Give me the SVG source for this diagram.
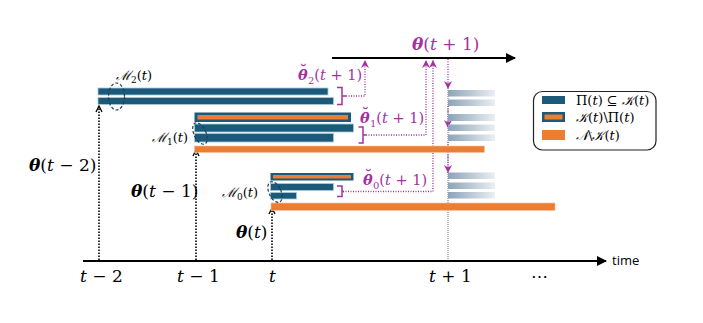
<svg xmlns="http://www.w3.org/2000/svg" width="703" height="323" viewBox="0 0 703 323">
<defs>
<linearGradient id="fade" x1="0" y1="0" x2="1" y2="0">
<stop offset="0" stop-color="#8ca3b8"/>
<stop offset="1" stop-color="#eaeff3"/>
</linearGradient>
<marker id="ah" markerWidth="10" markerHeight="10" refX="9" refY="5" orient="auto" markerUnits="userSpaceOnUse">
<path d="M0,0 L10,5 L0,10 z" fill="#000"/>
</marker>
<marker id="ahs" markerWidth="8" markerHeight="8" refX="7" refY="4" orient="auto" markerUnits="userSpaceOnUse">
<path d="M1,1 L7,4 L1,7" fill="none" stroke="#000" stroke-width="1.3"/>
</marker>
<marker id="ahm" markerWidth="9" markerHeight="9" refX="8" refY="4.5" orient="auto" markerUnits="userSpaceOnUse">
<path d="M0,0.5 L8,4.5 L0,8.5 L2.5,4.5 z" fill="#a3329f"/>
</marker>
</defs>
<style>
.math{font-family:"DejaVu Serif","Liberation Serif",serif;font-size:17px;fill:#000}
.sm{font-size:13px}
.md{font-size:14.5px}
.it{font-style:italic}
.bi{font-style:italic;font-weight:bold}
.mg{fill:#a3329f}
.brv{font-weight:bold}
.teal{fill:#1d5a7a;stroke:#a9cadb;stroke-width:0.8}
.orange{fill:#ed7d31;stroke:#f6c7a5;stroke-width:0.6}
.ot-out{fill:#1d5a7a}
.ot-in{fill:#ed7d31}
.fade{fill:url(#fade)}
.ell{fill:none;stroke:#1d3f55;stroke-width:1.2;stroke-dasharray:3 2}
.kdot{fill:none;stroke:#000;stroke-width:1.6;stroke-dasharray:1.5 1.5}
.mdot{fill:none;stroke:#a3329f;stroke-width:1.3;stroke-dasharray:1 1.5}
.brk{fill:none;stroke:#a3329f;stroke-width:1.5}
.sans{font-family:"Open Sans","Liberation Sans",sans-serif;font-size:13px;fill:#000}
</style>

<g id="connectors">
<line x1="83" y1="261" x2="606" y2="261" stroke="#000" stroke-width="2.2" marker-end="url(#ah)"/>
<line x1="332" y1="58" x2="515" y2="58" stroke="#000" stroke-width="2" marker-end="url(#ah)"/>
<line class="kdot" x1="99" y1="260" x2="99" y2="106" marker-end="url(#ahs)"/>
<line class="kdot" x1="196" y1="260" x2="196" y2="150" marker-end="url(#ahs)"/>
<line class="kdot" x1="272" y1="260" x2="272" y2="208" marker-end="url(#ahs)"/>
<line x1="448" y1="88" x2="448" y2="260" stroke="#444" stroke-width="0.8" stroke-dasharray="1 1"/>
<path class="mdot" d="M346,96 H365 V60" marker-end="url(#ahm)"/>
<path class="mdot" d="M366,135 H426 V60" marker-end="url(#ahm)"/>
<path class="mdot" d="M343,191.5 H433 V60" marker-end="url(#ahm)"/>
<line class="mdot" x1="448" y1="59" x2="448" y2="89" marker-end="url(#ahm)"/>
<line class="mdot" x1="448" y1="106" x2="448" y2="128" marker-end="url(#ahm)"/>
<line class="mdot" x1="448" y1="142" x2="448" y2="173" marker-end="url(#ahm)"/>
</g>

<g id="tier2">
<rect class="teal" x="98" y="88" width="230" height="7"/>
<rect class="teal" x="98" y="97.5" width="235.5" height="7"/>
<path class="brk" d="M337,87.5 H342 V104.5 H337 M342,96 H346"/>
<ellipse class="ell" cx="116.5" cy="96.5" rx="8" ry="13.5"/>
<text class="math sm" x="116" y="80"><tspan class="it">ℳ</tspan><tspan font-size="9" dy="3">2</tspan><tspan dy="-3">(</tspan><tspan class="it">t</tspan>)</text>
</g>

<g id="tier1">
<rect class="ot-out" x="194.5" y="112.5" width="156.5" height="9.5"/>
<rect class="ot-in" x="197.5" y="115" width="150.5" height="4.5"/>
<rect class="teal" x="194.5" y="124" width="159" height="8"/>
<rect class="teal" x="194.5" y="133.5" width="139" height="8.5"/>
<rect class="orange" x="194.5" y="146" width="290" height="6.5"/>
<path class="brk" d="M358.5,127 H363 V143 H358.5 M363,135 H366"/>
<ellipse class="ell" cx="200" cy="133.5" rx="6" ry="11.5" transform="rotate(-25 200 133.5)"/>
<text class="math sm" x="152" y="142"><tspan class="it">ℳ</tspan><tspan font-size="9" dy="3">1</tspan><tspan dy="-3">(</tspan><tspan class="it">t</tspan>)</text>
</g>

<g id="tier0">
<rect class="ot-out" x="270.5" y="173" width="83" height="7.5"/>
<rect class="ot-in" x="273" y="175" width="78" height="3.5"/>
<rect class="teal" x="270.5" y="183.5" width="63" height="7"/>
<rect class="teal" x="270.5" y="192.5" width="26" height="6.5"/>
<rect class="orange" x="271" y="203" width="284" height="7.5"/>
<path class="brk" d="M337,186 H342 V196.5 H337 M342,191.5 H344"/>
<ellipse class="ell" cx="275" cy="192" rx="6" ry="11" transform="rotate(-25 275 192)"/>
<text class="math sm" x="222" y="197"><tspan class="it">ℳ</tspan><tspan font-size="9" dy="3">0</tspan><tspan dy="-3">(</tspan><tspan class="it">t</tspan>)</text>
</g>

<g id="next">
<rect class="fade" x="448" y="90" width="47" height="6.5"/>
<rect class="fade" x="448" y="99.5" width="47" height="6.5"/>
<rect class="fade" x="448" y="114" width="47" height="7"/>
<rect class="fade" x="448" y="124.5" width="47" height="6.5"/>
<rect class="fade" x="448" y="134.5" width="47" height="6.5"/>
<rect class="fade" x="448" y="172.5" width="47" height="6.5"/>
<rect class="fade" x="448" y="182.5" width="47" height="6.5"/>
<rect class="fade" x="448" y="192" width="47" height="6.5"/>
</g>

<g id="theta-labels">
<text class="math" x="29" y="171"><tspan class="bi">θ</tspan>(<tspan class="it">t</tspan> − 2)</text>
<text class="math" x="131" y="197"><tspan class="bi">θ</tspan>(<tspan class="it">t</tspan> − 1)</text>
<text class="math" x="236" y="238"><tspan class="bi">θ</tspan>(<tspan class="it">t</tspan>)</text>
<text class="math mg" x="412" y="50" font-size="16.5"><tspan class="bi">θ</tspan>(<tspan class="it">t</tspan> + 1)</text>
<text class="math md mg" x="298" y="80"><tspan class="bi">θ</tspan><tspan class="brv" dx="-8" dy="-4.5">˘</tspan><tspan font-size="10" dx="1" dy="8">2</tspan><tspan dy="-3.5">(</tspan><tspan class="it">t</tspan> + 1)</text>
<text class="math md mg" x="360" y="123"><tspan class="bi">θ</tspan><tspan class="brv" dx="-8" dy="-4.5">˘</tspan><tspan font-size="10" dx="1" dy="8">1</tspan><tspan dy="-3.5">(</tspan><tspan class="it">t</tspan> + 1)</text>
<text class="math md mg" x="363" y="185"><tspan class="bi">θ</tspan><tspan class="brv" dx="-8" dy="-4.5">˘</tspan><tspan font-size="10" dx="1" dy="8">0</tspan><tspan dy="-3.5">(</tspan><tspan class="it">t</tspan> + 1)</text>
</g>

<g id="axis-labels">
<text class="math" x="80" y="282"><tspan class="it">t</tspan> − 2</text>
<text class="math" x="177" y="282"><tspan class="it">t</tspan> − 1</text>
<text class="math" x="269" y="282"><tspan class="it">t</tspan></text>
<text class="math" x="429" y="282"><tspan class="it">t</tspan> + 1</text>
<text class="math" x="531" y="282" font-size="12">⋯</text>
<text class="sans" x="612" y="265">time</text>
</g>

<g id="legend">
<rect x="533.5" y="91.5" width="122.5" height="58.5" rx="9" fill="#fff" stroke="#222" stroke-width="1.2"/>
<rect x="542" y="96" width="23" height="8" fill="#1d5a7a"/>
<text class="math sm" x="576" y="105">Π(<tspan class="it">t</tspan>) ⊆ <tspan class="it">𝒦</tspan>(<tspan class="it">t</tspan>)</text>
<rect x="542" y="112" width="23" height="10" fill="#1d5a7a"/>
<rect x="544.5" y="114.5" width="18" height="5" fill="#ed7d31"/>
<text class="math sm" x="576" y="122"><tspan class="it">𝒦</tspan>(<tspan class="it">t</tspan>)\Π(<tspan class="it">t</tspan>)</text>
<rect x="542" y="130" width="23" height="10" fill="#ed7d31"/>
<text class="math sm" x="576" y="140"><tspan class="it">𝒩</tspan>\<tspan class="it">𝒦</tspan>(<tspan class="it">t</tspan>)</text>
</g>
</svg>
